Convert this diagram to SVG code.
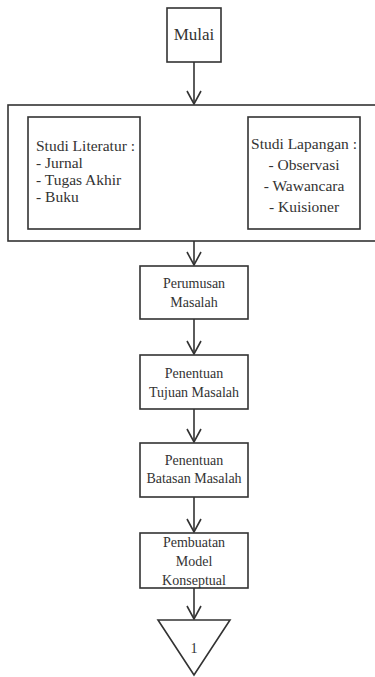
<svg xmlns="http://www.w3.org/2000/svg" width="375" height="677" viewBox="0 0 375 677">
<defs>
<marker id="arr" viewBox="0 0 16 16" refX="15" refY="8" markerWidth="16" markerHeight="16" markerUnits="userSpaceOnUse" orient="auto">
<path d="M2,1 L15,8 L2,15" fill="none" stroke="#333" stroke-width="1.6"/>
</marker>
<style>
.box{fill:#fff;stroke:#333;stroke-width:1.6}
.t{font-family:"Liberation Serif","Times New Roman",serif;font-size:14px;fill:#333}
.s{font-size:15.5px}
.c{text-anchor:middle}
.edge{stroke:#333;stroke-width:1.6;fill:none;marker-end:url(#arr)}
</style>
</defs>
<rect width="375" height="677" fill="#fff"/>
<g id="connectors">
<line class="edge" x1="194" y1="62" x2="194" y2="104"/>
<line class="edge" x1="194" y1="241" x2="194" y2="265"/>
<line class="edge" x1="194" y1="319" x2="194" y2="354"/>
<line class="edge" x1="194" y1="409" x2="194" y2="442"/>
<line class="edge" x1="194" y1="497" x2="194" y2="532"/>
<line class="edge" x1="194" y1="588" x2="194" y2="619"/>
</g>
<g id="mulai">
<rect class="box" x="167" y="8" width="54" height="54"/>
<text class="t c" x="194" y="40" style="font-size:17px">Mulai</text>
</g>
<g id="studi">
<rect class="box" x="8" y="105" width="372" height="136"/>
</g>
<g id="literatur">
<rect class="box" x="28" y="117" width="112" height="112"/>
<text class="t s" x="36" y="151">Studi Literatur :</text>
<text class="t s" x="36" y="168">- Jurnal</text>
<text class="t s" x="36" y="185">- Tugas Akhir</text>
<text class="t s" x="36" y="202">- Buku</text>
</g>
<g id="lapangan">
<rect class="box" x="248" y="117" width="112" height="112"/>
<text class="t c s" x="304" y="149">Studi Lapangan :</text>
<text class="t c s" x="304" y="170">- Observasi</text>
<text class="t c s" x="304" y="191">- Wawancara</text>
<text class="t c s" x="304" y="212">- Kuisioner</text>
</g>
<g id="perumusan">
<rect class="box" x="140" y="266" width="108" height="53"/>
<text class="t c" x="194" y="288">Perumusan</text>
<text class="t c" x="194" y="307">Masalah</text>
</g>
<g id="tujuan">
<rect class="box" x="140" y="355" width="108" height="54"/>
<text class="t c" x="194" y="378">Penentuan</text>
<text class="t c" x="194" y="397">Tujuan Masalah</text>
</g>
<g id="batasan">
<rect class="box" x="140" y="443" width="108" height="54"/>
<text class="t c" x="194" y="465">Penentuan</text>
<text class="t c" x="194" y="483">Batasan Masalah</text>
</g>
<g id="model">
<rect class="box" x="140" y="533" width="108" height="55"/>
<text class="t c" x="194" y="547">Pembuatan</text>
<text class="t c" x="194" y="566">Model</text>
<text class="t c" x="194" y="585">Konseptual</text>
</g>
<g id="konektor1">
<polygon class="box" points="158,620 230,620 194,675"/>
<text class="t c" x="194" y="653">1</text>
</g>
</svg>
